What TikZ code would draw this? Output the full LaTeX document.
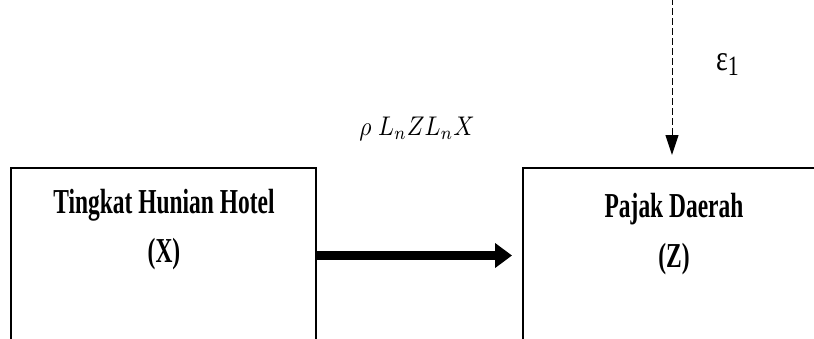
\documentclass[tikz,border=0pt]{standalone}
\usepackage{fontspec}
\setmainfont{Liberation Serif}
\usetikzlibrary{arrows.meta}
\tikzset{
  boxnode/.style={draw, line width=1.4pt, minimum width=305pt, minimum height=175pt, inner sep=0pt, outer sep=0pt},
  boxtext/.style={anchor=base, inner sep=0pt, font=\fontsize{35}{38}\selectfont\bfseries},
  mainarrow/.style={line width=9pt, -{Triangle[length=17pt,width=24pt]}},
  errarrow/.style={line width=1pt, dash pattern=on 7pt off 3pt, -{Triangle[length=20pt,width=13pt]}},
}
\newcommand{\sq}[1]{\scalebox{0.67}[1]{#1}}
\begin{document}
\begin{tikzpicture}[x=1pt,y=-1pt]
\useasboundingbox (0,0) rectangle (814,338);
\clip (0,0) rectangle (814,338);
\node[boxnode] (X) at (163.3,255.5) {};
\node[boxnode, minimum width=310pt] (Z) at (678,255.5) {};
\node[boxtext] (xt1) at (164,213) {\sq{Tingkat Hunian Hotel}};
\node[boxtext] (xt2) at (164,262.5) {\sq{(X)}};
\node[boxtext] (zt1) at (674,217) {\sq{Pajak Daerah}};
\node[boxtext] (zt2) at (674,267) {\sq{(Z)}};
\draw[mainarrow, shorten >=11pt] (X.east) -- (Z.west);
\coordinate (e) at (672,-2);
\draw[errarrow, shorten >=13pt] (e) -- (e |- Z.north);
\node[anchor=base, inner sep=0pt] (lab) at (417,135) {\scalebox{2.35}[2.7]{$\rho\;L_nZL_nX$}};
\node[anchor=base west, inner sep=0pt] (eps) at (716,70) {\scalebox{0.78}[1]{\fontsize{36}{40}\selectfont ε\raisebox{-5pt}{\fontsize{28}{30}\selectfont 1}}};
\end{tikzpicture}
\end{document}
